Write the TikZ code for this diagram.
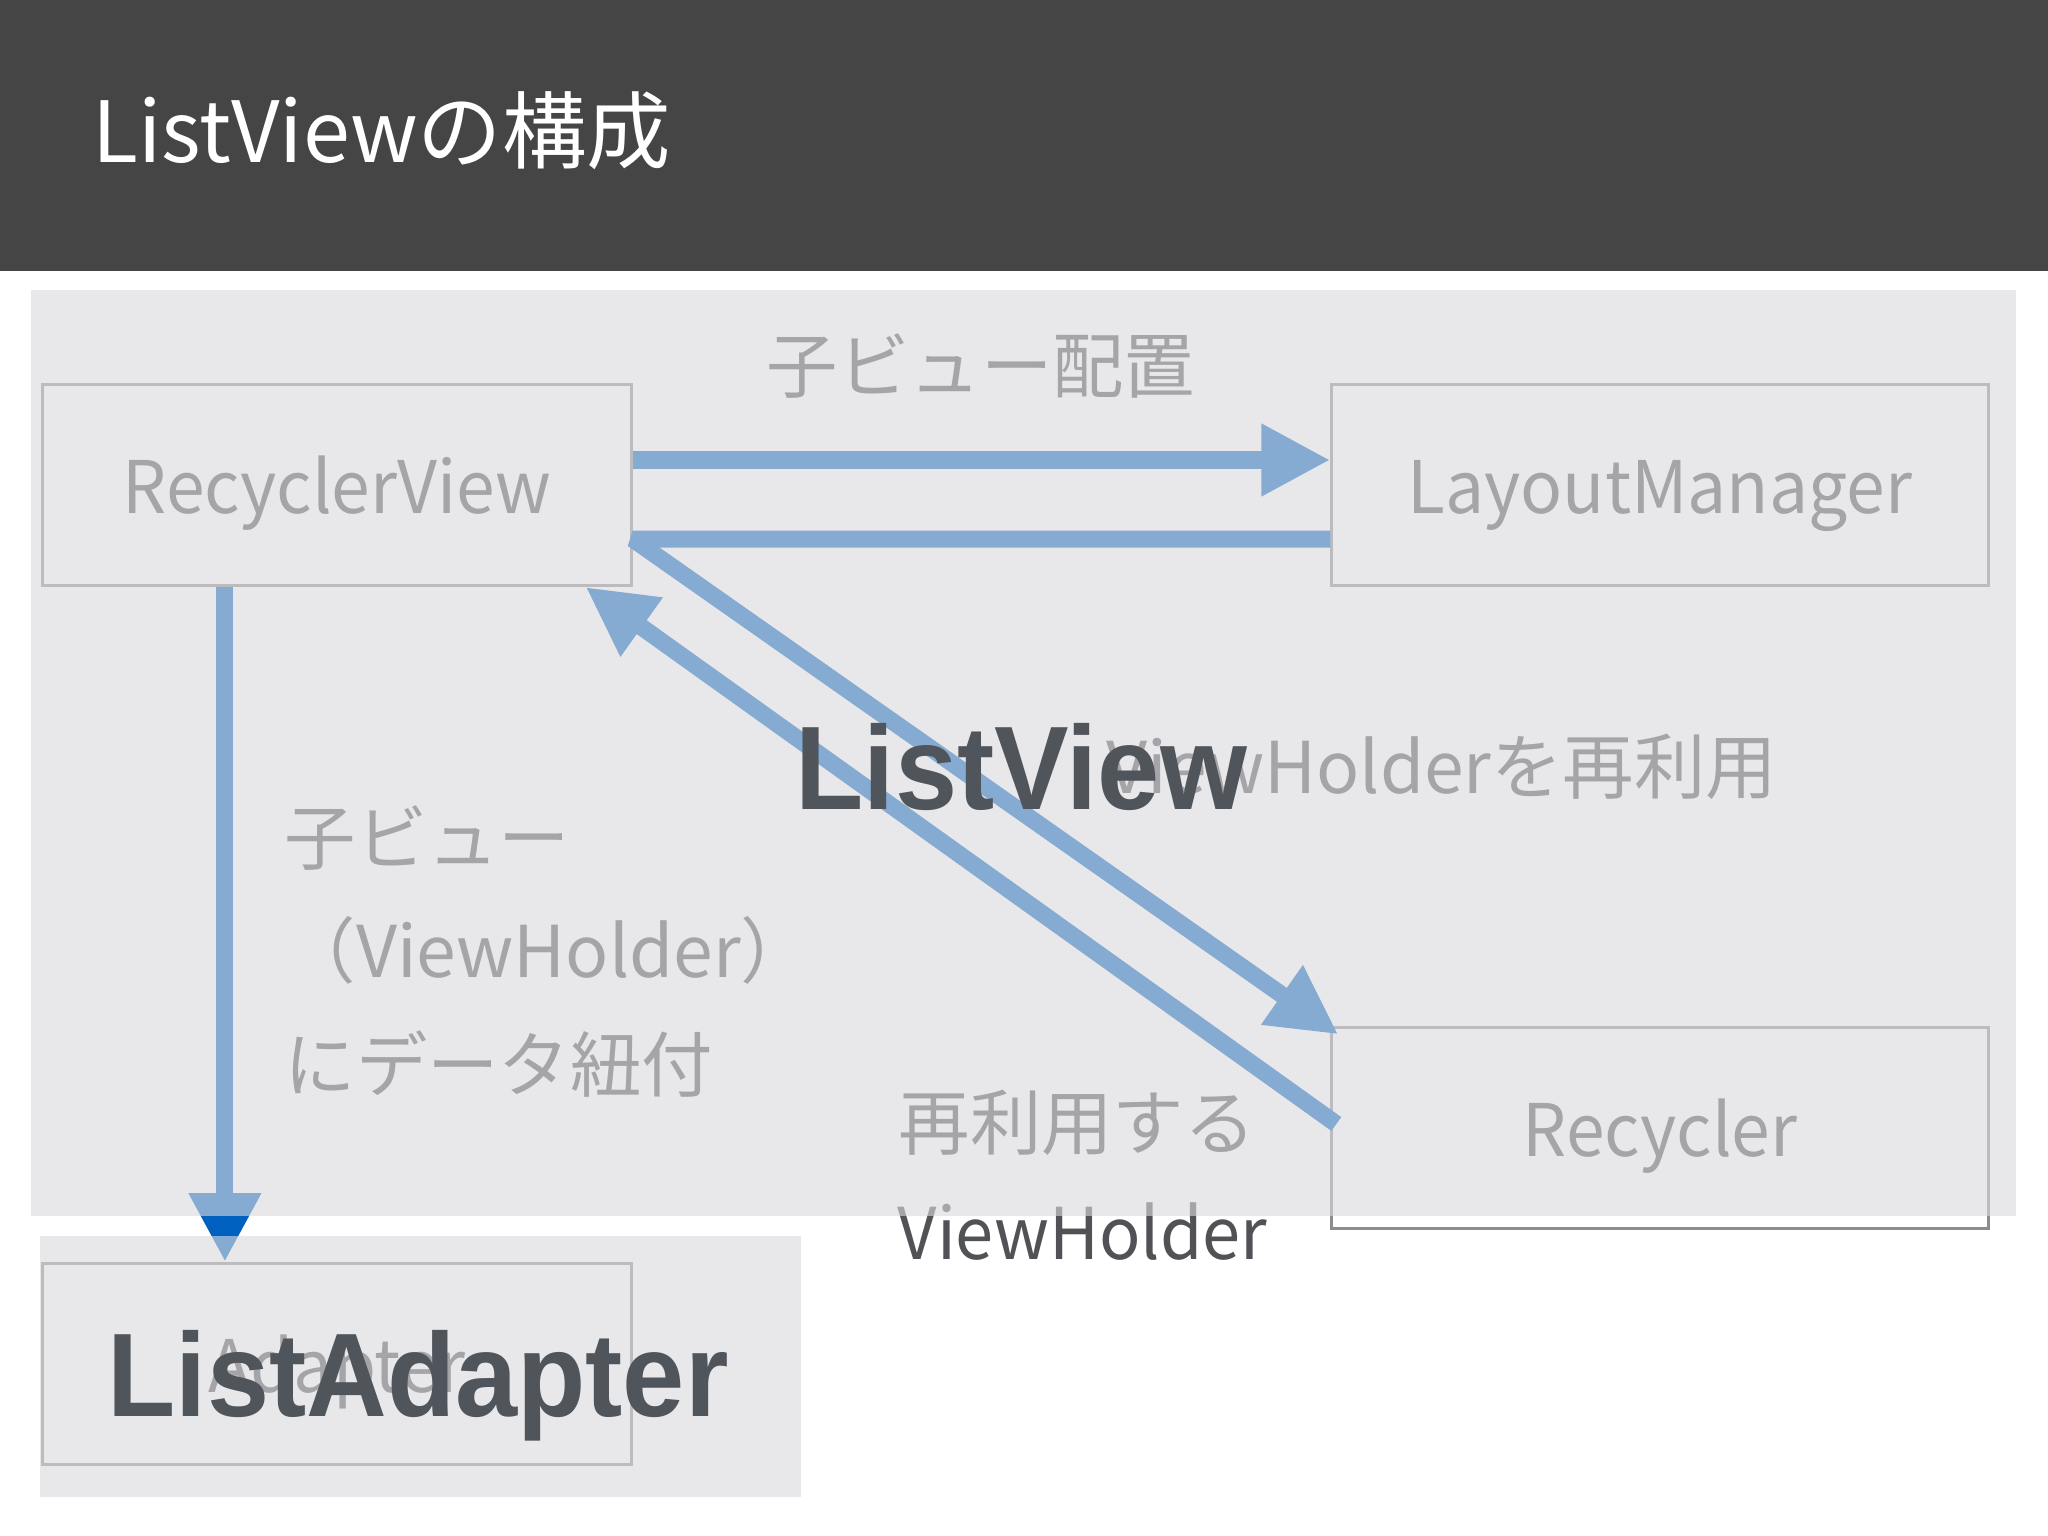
\documentclass[tikz,border=0pt]{standalone}
\usepackage{fontspec}
\setmainfont{Noto Sans CJK JP}
\newfontfamily\heavyfont{Liberation Sans}
\usetikzlibrary{arrows.meta}

\definecolor{headgray}{HTML}{454545}
\definecolor{inkgray}{RGB}{80,82,86}
\definecolor{edgeblue}{HTML}{0060C0}
\definecolor{framegray}{RGB}{140,140,140}
\definecolor{veilgray}{RGB}{219,219,222}
\definecolor{boldgray}{RGB}{80,84,91}

\tikzset{
  box/.style={draw=framegray, line width=0.85pt, inner sep=0pt, minimum height=2.01cm,
    text height=16pt, text depth=0pt, text=inkgray, font=\fontsize{20.6}{25}\selectfont},
  lbl/.style={inner sep=0pt, anchor=base west, text=inkgray, font=\fontsize{20.3}{24}\selectfont},
  flow/.style={draw=edgeblue, line width=4.84pt, line join=bevel,
    -{Triangle[length=19.6pt, width=19.3pt]}},
  veil/.style={fill=veilgray, fill opacity=0.61},
  bigword/.style={inner sep=0pt, anchor=base west, text=boldgray,
    font=\heavyfont\bfseries\fontsize{33.8}{40}\selectfont},
}

\begin{document}
\begin{tikzpicture}[x=0.01cm, y=-0.01cm]

  \useasboundingbox (0,0) rectangle (2048,1536);
  \fill[white] (0,0) rectangle (2048,1536);
  \fill[headgray] (0,0) rectangle (2048,271);
  \node[anchor=west, inner sep=0pt, text=white, font=\fontsize{24}{29}\selectfont] (title) at (92,131) {ListViewの構成};

  % Define nodes
  \node[box, minimum width=5.88cm] (rv) at (337,485) {\scalebox{0.96}[1]{RecyclerView}};
  \node[box, minimum width=6.56cm] (lm) at (1660,485) {\scalebox{0.96}[1]{LayoutManager}};
  \node[box, minimum width=6.56cm, minimum height=2.00cm] (rc) at (1660,1128) {\scalebox{0.96}[1]{Recycler}};
  \node[box, minimum width=5.88cm] (ad) at (337,1364) {\scalebox{0.96}[1]{Adapter}};

  % Labels
  \node[lbl, anchor=center] (place) at (981,366) {子ビュー配置};
  \node[lbl] (reuse) at (1106,793) {ViewHolderを再利用};
  \node[lbl] (bind1) at (284,864) {子ビュー};
  \node[lbl] (bind2) at (284,977) {（ViewHolder）};
  \node[lbl] (bind3) at (284,1091) {にデータ紐付};
  \node[lbl] (held1) at (898,1149) {再利用する};
  \node[lbl] (held2) at (897,1259) {\scalebox{0.96}[1]{ViewHolder}};

  % Connect the nodes
  \draw[flow] ([yshift=0.25cm]rv.east) -- ([yshift=0.25cm]lm.west);
  \draw[flow] ([yshift=-0.54cm]lm.west) -- ([yshift=-0.54cm]rv.east)
    -- ([shift={(0.08cm,-0.08cm)}]rc.north west);
  \draw[flow] ([shift={(0.06cm,0.04cm)}]rc.west) -- ([xshift=-0.47cm]rv.south east);
  \draw[flow] ([xshift=-1.12cm]rv.south) -- ([xshift=-1.12cm]ad.north);

  % Panels
  \fill[veil] (31,290) rectangle (2016,1216);
  \fill[veil] (40,1236) rectangle (801,1497);

  \node[bigword] (listview) at (795,809) {\scalebox{0.94}[1]{ListView}};
  \node[bigword] (listadapter) at (107,1416) {\scalebox{0.94}[1]{ListAdapter}};

\end{tikzpicture}
\end{document}
